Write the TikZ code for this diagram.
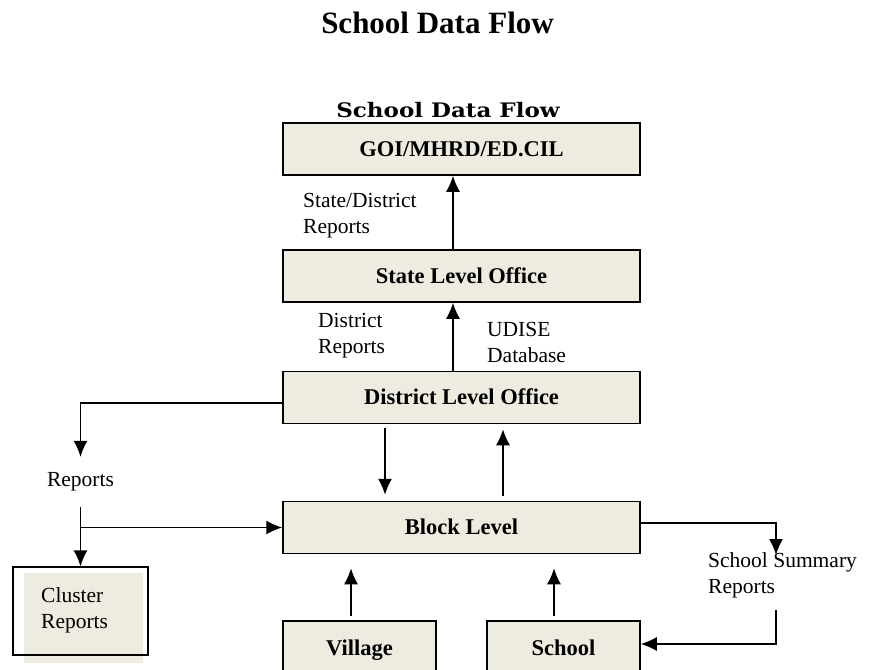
\documentclass[tikz,border=0pt]{standalone}
\usepackage{fontspec}
\setmainfont{Liberation Serif}
\newfontfamily\slabfont[FakeStretch=1.15]{DejaVu Serif}
\usetikzlibrary{arrows.meta}
\definecolor{boxfill}{RGB}{238,236,225}
\tikzset{
  level/.style={draw, line width=1.5pt, fill=boxfill, inner sep=0pt,
    minimum height=52, text height=15pt, text depth=1pt,
    font=\fontsize{22.5}{27}\selectfont\bfseries},
  note/.style={align=left, inner sep=0pt, font=\fontsize{21.5}{26}\selectfont},
  flow/.style={line width=1.4pt, -{Latex[length=16pt,width=14pt]}},
}
\begin{document}
\begin{tikzpicture}[x=1pt,y=-1pt]
  \clip (0,0) rectangle (871,670);
  \node[font=\fontsize{31}{36}\selectfont\bfseries] (title) at (437.5,22.5) {School Data Flow};
  \node[font=\slabfont\fontsize{20}{24}\selectfont\bfseries] (subtitle) at (448,110.5) {School Data Flow};

  \node[level, minimum width=357] (goi) at (461.5,149) {GOI/MHRD/ED.CIL};
  \node[level, minimum width=357] (state) at (461.5,276) {State Level Office};
  \node[level, minimum width=357] (district) at (461.5,397.5) {District Level Office};
  \node[level, minimum width=357] (block) at (461.5,527.5) {Block Level};
  \node[level, minimum width=153, minimum height=54] (village) at (359.5,648) {Village};
  \node[level, minimum width=153, minimum height=54] (school) at (563.5,648) {School};

  \fill[boxfill] (24,573) rectangle (143,663);
  \node[draw, line width=1.3pt, minimum width=135, minimum height=88] (clusterbox) at (80.5,611) {};
  \node[note, anchor=west] (cluster) at (41,610) {Cluster\\Reports};

  \node[note, anchor=west] (statenote) at (303,216) {State/District\\Reports};
  \node[note, anchor=west] (distnote) at (318,335.5) {District\\Reports};
  \node[note, anchor=west] (udise) at (487,342) {UDISE\\Database};
  \node[note, minimum height=50] (reports) at (80.5,482) {Reports};
  \node[note, anchor=west] (summary) at (708,575) {School Summary\\Reports};
  \coordinate (sumin) at (776,555);
  \coordinate (sumout) at (776,610);

  \draw[flow] ([xshift=-8.5]state.north) -- ([xshift=-8.5]goi.south);
  \draw[flow] ([xshift=-8.5]district.north) -- ([xshift=-8.5]state.south);
  \draw[flow, shorten <=4pt, shorten >=6pt] ([xshift=-76.5]district.south) -- ([xshift=-76.5]block.north);
  \draw[flow, shorten <=5pt, shorten >=5pt] ([xshift=41.5]block.north) -- ([xshift=41.5]district.south);
  \draw[flow, shorten <=4pt, shorten >=14pt] ([xshift=-8.5]village.north) -- ([xshift=-8.5]village.north |- block.south);
  \draw[flow, shorten <=4pt, shorten >=14pt] ([xshift=-9.5]school.north) -- ([xshift=-9.5]school.north |- block.south);

  \draw[flow] ([yshift=-5.5]district.west) -| (reports.north);
  \draw[flow] (reports.south) -- (clusterbox.north);
  \draw[flow] (reports.south |- block.west) -- (block.west);
  \draw[flow] ([yshift=4.5]block.east) -| (sumin);
  \draw[flow] (sumout) |- ([yshift=4]school.east);
\end{tikzpicture}
\end{document}
